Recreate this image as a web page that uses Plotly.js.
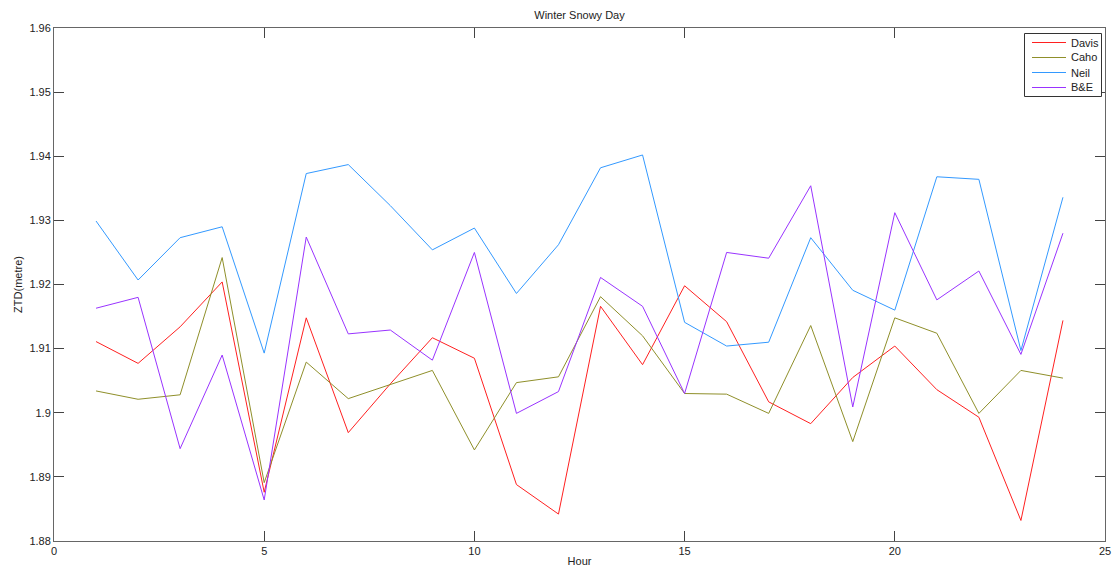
<!DOCTYPE html>
<html>
<head>
<meta charset="utf-8">
<script src="https://cdn.plot.ly/plotly-3.0.1.min.js"></script>
<style>
  html, body { margin: 0; padding: 0; background: #ffffff; }
  #chart { width: 1115px; height: 567px; }
</style>
</head>
<body>
<div id="chart"></div>
<script>
// Hourly zenith total delay at four stations
const hours = [1, 2, 3, 4, 5, 6, 7, 8, 9, 10, 11, 12, 13, 14, 15, 16, 17, 18, 19, 20, 21, 22, 23, 24];

const davis = [1.9111, 1.9077, 1.9134, 1.9204, 1.8876, 1.9148, 1.8969, 1.9045, 1.9117, 1.9085, 1.8888, 1.8842,
               1.9166, 1.9075, 1.9198, 1.9142, 1.9017, 1.8983, 1.9055, 1.9104, 1.9036, 1.8993, 1.8832, 1.9144];
const caho  = [1.9034, 1.9021, 1.9028, 1.9242, 1.8891, 1.9079, 1.9022, 1.9044, 1.9066, 1.8942, 1.9047, 1.9056,
               1.9181, 1.9120, 1.9030, 1.9029, 1.8999, 1.9136, 1.8955, 1.9148, 1.9124, 1.8999, 1.9066, 1.9054];
const neil  = [1.9299, 1.9207, 1.9273, 1.9290, 1.9093, 1.9373, 1.9387, 1.9323, 1.9254, 1.9288, 1.9186, 1.9262,
               1.9382, 1.9402, 1.9141, 1.9104, 1.9110, 1.9273, 1.9191, 1.9160, 1.9368, 1.9364, 1.9097, 1.9336];
const be    = [1.9163, 1.9180, 1.8944, 1.9090, 1.8864, 1.9274, 1.9123, 1.9129, 1.9082, 1.9250, 1.8999, 1.9033,
               1.9211, 1.9166, 1.9030, 1.9250, 1.9241, 1.9354, 1.9009, 1.9312, 1.9176, 1.9221, 1.9091, 1.9280];

const seriesNames = ['Davis', 'Caho', 'Neil', 'B&E'];
const xTickVals = [0, 5, 10, 15, 20, 25];
const yTickVals = [1.88, 1.89, 1.90, 1.91, 1.92, 1.93, 1.94, 1.95, 1.96];
const yTickText = ['1.88', '1.89', '1.9', '1.91', '1.92', '1.93', '1.94', '1.95', '1.96'];

const colors = ['#ff2020', '#8f8f2a', '#3399ff', '#9933ff'];
const values = [davis, caho, neil, be];

const W = 1115, H = 567;
const margin = { l: 54, r: 10, t: 28, b: 26 };
const plotW = W - margin.l - margin.r;
const plotH = H - margin.t - margin.b;
// pixel -> paper coordinates, used to place the compact legend box
const px = (x) => (x - margin.l) / plotW;
const py = (y) => (H - margin.b - y) / plotH;

const traces = values.map((v, i) => ({
  x: hours,
  y: v,
  type: 'scatter',
  mode: 'lines',
  name: seriesNames[i],
  line: { color: colors[i], width: 1 }
}));

// Compact legend: framed box with a line sample and a label per series
const legendBox = { left: 1024.5, right: 1101.5, top: 33.5, bottom: 96.5 };
const legendRow0 = 42.5, legendRowStep = 15;
const shapes = [{
  type: 'rect', xref: 'paper', yref: 'paper',
  x0: px(legendBox.left), x1: px(legendBox.right),
  y0: py(legendBox.bottom), y1: py(legendBox.top),
  line: { color: '#333333', width: 1 }, fillcolor: '#ffffff', layer: 'above'
}];
const annotations = [];
seriesNames.forEach((name, i) => {
  const rowY = legendRow0 + i * legendRowStep;
  shapes.push({
    type: 'line', xref: 'paper', yref: 'paper',
    x0: px(1032), x1: px(1066), y0: py(rowY), y1: py(rowY),
    line: { color: colors[i], width: 1 }, layer: 'above'
  });
  annotations.push({
    xref: 'paper', yref: 'paper', x: px(1069), y: py(rowY),
    xanchor: 'left', yanchor: 'middle', showarrow: false,
    text: name.replace('&', '&amp;'),
    font: { size: 11, color: '#222222' }
  });
});

const axisCommon = {
  showgrid: false,
  zeroline: false,
  showline: true,
  linecolor: '#666666',
  linewidth: 1,
  mirror: 'ticks',
  ticks: 'inside',
  ticklen: 10,
  tickcolor: '#444444',
  tickfont: { family: 'Liberation Sans, Arial, sans-serif', size: 11, color: '#222222' }
};

const layout = {
  width: W,
  height: H,
  margin: margin,
  paper_bgcolor: '#ffffff',
  plot_bgcolor: '#ffffff',
  font: { family: 'Liberation Sans, Arial, sans-serif', size: 11, color: '#222222' },
  title: {
    text: 'Winter Snowy Day',
    font: { size: 11, color: '#222222' },
    x: 0.5, xref: 'paper', xanchor: 'center',
    y: 1, yref: 'paper', yanchor: 'bottom',
    pad: { b: 9 }
  },
  xaxis: Object.assign({}, axisCommon, {
    range: [0, 25],
    tickvals: xTickVals,
    title: { text: 'Hour', font: { size: 11 }, standoff: 5 }
  }),
  yaxis: Object.assign({}, axisCommon, {
    range: [1.88, 1.96],
    tickvals: yTickVals,
    ticktext: yTickText,
    title: { text: 'ZTD(metre)', font: { size: 11 }, standoff: 4 }
  }),
  shapes: shapes,
  annotations: annotations,
  showlegend: false
};

Plotly.newPlot('chart', traces, layout, { displayModeBar: false, staticPlot: true });
</script>
</body>
</html>
